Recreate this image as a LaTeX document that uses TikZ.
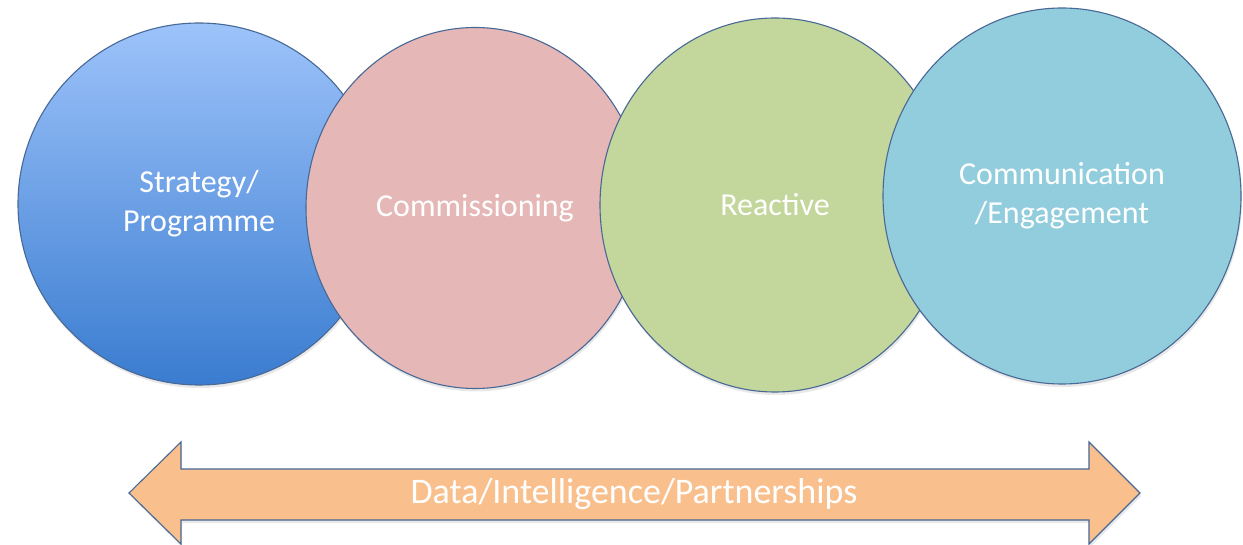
\documentclass[tikz,border=0pt]{standalone}
\usepackage{fontspec}
\setmainfont{Carlito}
\usetikzlibrary{shapes.geometric,shadows}
\definecolor{bluetop}{RGB}{157,195,250}
\definecolor{bluebot}{RGB}{58,124,208}
\definecolor{pinkfill}{RGB}{229,184,183}
\definecolor{greenfill}{RGB}{195,214,155}
\definecolor{tealfill}{RGB}{146,205,221}
\definecolor{orangefill}{RGB}{249,192,141}
\definecolor{edgeblue}{RGB}{72,104,150}
\tikzset{
  bubble/.style={ellipse, draw=edgeblue, line width=1.1pt, inner sep=0pt,
    text=white, align=center, font=\fontsize{32}{39}\selectfont,
    drop shadow={opacity=0.18, shadow xshift=1pt, shadow yshift=-3pt}},
  banner/.style={fill=orangefill, draw=edgeblue, line width=1.1pt, line join=miter,
    drop shadow={opacity=0.18, shadow xshift=1pt, shadow yshift=-3pt}},
  bannertext/.style={text=white, font=\fontsize{36}{42}\selectfont}
}
\begin{document}
\begin{tikzpicture}[x=1pt,y=-1pt]
\useasboundingbox[fill=white] (0,0) rectangle (1243,545);
\node[bubble, top color=bluetop, bottom color=bluebot, minimum width=362pt, minimum height=362pt] (strat) at (199,204) {Strategy/\\Programme};
\node[bubble, fill=pinkfill, minimum width=338pt, minimum height=361pt] (comm) at (475,208) {Commissioning};
\node[bubble, fill=greenfill, minimum width=350pt, minimum height=374pt] (react) at (775,205) {Reactive};
\node[bubble, fill=tealfill, minimum width=358pt, minimum height=376pt] (engage) at (1062,196) {Communication\\/Engagement};
\draw[banner] (129,493) -- (181,442) -- (181,469) -- (1089,469) -- (1089,442) -- (1140,493)
  -- (1089,544) -- (1089,520) -- (181,520) -- (181,544) -- cycle;
\node[bannertext] (data) at (634,494) {Data/Intelligence/Partnerships};
\end{tikzpicture}
\end{document}
